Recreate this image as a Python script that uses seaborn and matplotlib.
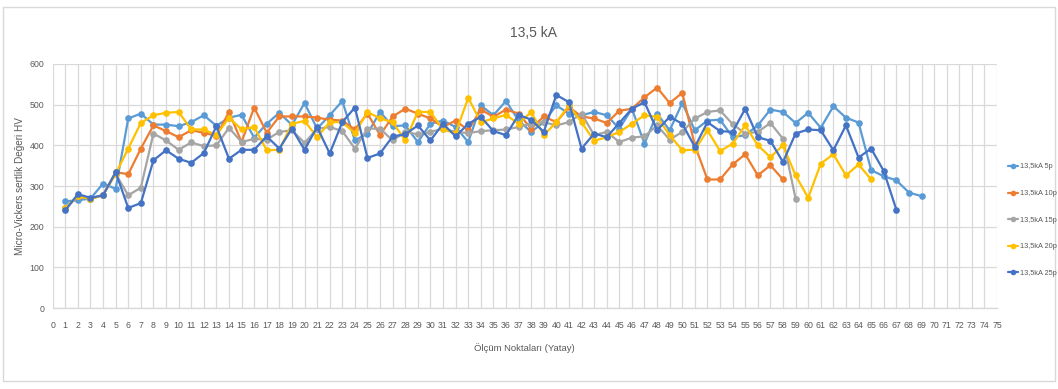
import numpy as np
import pandas as pd
import matplotlib
matplotlib.use("Agg")
import matplotlib.pyplot as plt
import seaborn as sns
from matplotlib.patches import Rectangle
from matplotlib.lines import Line2D

# Hardness readings (HV) along the horizontal measurement line, one list per hold time
series_names = ["13,5kA 5p", "13,5kA 10p", "13,5kA 15p", "13,5kA 20p", "13,5kA 25p"]

hv_5p = [262, 265, 269, 306, 293, 466, 478, 451, 451, 447, 457, 474, 448, 468, 475, 419, 453, 480, 450, 504,
         441, 474, 509, 412, 429, 482, 447, 449, 408, 453, 461, 445, 408, 498, 474, 509, 461, 433, 457, 498,
         478, 474, 482, 474, 441, 490, 404, 478, 437, 504, 437, 461, 463, 420, 425, 449, 488, 482, 455, 480,
         443, 496, 468, 456, 339, 324, 314, 284, 275]
hv_10p = [245, 275, 268, 278, 334, 329, 392, 449, 435, 420, 437, 431, 423, 482, 408, 493, 431, 471, 471, 471,
          468, 463, 461, 439, 478, 425, 471, 490, 478, 466, 445, 461, 437, 488, 470, 488, 478, 441, 471, 457,
          494, 471, 466, 455, 485, 490, 518, 542, 504, 529, 400, 316, 316, 353, 378, 326, 351, 316]
hv_15p = [245, 275, 268, 278, 330, 277, 296, 429, 412, 389, 407, 398, 400, 443, 408, 416, 414, 433, 437, 406,
          441, 445, 435, 392, 441, 441, 412, 433, 427, 433, 441, 433, 430, 435, 437, 439, 445, 453, 457, 449,
          457, 478, 425, 433, 408, 419, 422, 449, 414, 433, 466, 482, 486, 452, 429, 433, 455, 416, 269]
hv_20p = [245, 275, 268, 278, 330, 392, 455, 474, 480, 482, 439, 439, 425, 468, 439, 445, 388, 389, 453, 460,
          420, 457, 457, 430, 482, 466, 457, 412, 482, 482, 439, 430, 517, 457, 466, 475, 453, 482, 425, 457,
          498, 457, 411, 420, 433, 453, 474, 470, 425, 388, 389, 437, 386, 404, 449, 400, 371, 400, 326, 271,
          355, 378, 326, 353, 316]
hv_25p = [240, 280, 271, 277, 334, 246, 258, 363, 388, 367, 357, 381, 447, 367, 389, 389, 422, 392, 441, 389,
          445, 380, 457, 493, 369, 380, 422, 427, 449, 412, 453, 422, 453, 470, 435, 425, 475, 463, 433, 524,
          506, 392, 429, 420, 455, 490, 506, 437, 470, 453, 396, 457, 435, 433, 490, 420, 411, 359, 429, 439,
          437, 388, 449, 370, 392, 337, 242]

all_series = [hv_5p, hv_10p, hv_15p, hv_20p, hv_25p]
colors = ["#5B9BD5", "#ED7D31", "#A5A5A5", "#FFC000", "#4472C4"]

title_text = "13,5 kA"
x_label = "Ölçüm Noktaları (Yatay)"
y_label = "Micro-Vickers sertlik Değeri HV"
x_ticks = list(range(0, 76))
y_ticks = list(range(0, 601, 100))

rows = []
for name, vals in zip(series_names, all_series):
    for i, v in enumerate(vals, start=1):
        rows.append({"nokta": i, "HV": v, "seri": name})
df = pd.DataFrame(rows)

sns.set_theme(style="white")
plt.rcParams["font.family"] = ["Liberation Sans", "DejaVu Sans"]
text_color = "#595959"
grid_color = "#D9D9D9"

fig = plt.figure(figsize=(10.58, 3.89), dpi=100)
ax = fig.add_axes([0.0498, 0.2082, 0.8926, 0.6273])

sns.lineplot(data=df, x="nokta", y="HV", hue="seri", hue_order=series_names,
             palette=colors, marker="o", markersize=4.8, markeredgewidth=0,
             linewidth=1.6, sort=False, legend=False, ax=ax)

ax.set_xlim(0, 75)
ax.set_ylim(0, 600)
ax.set_xticks(x_ticks)
ax.set_xticklabels([str(t) for t in x_ticks], fontsize=6.3, color=text_color)
ax.set_yticks(y_ticks)
ax.set_yticklabels([str(t) for t in y_ticks], fontsize=6.3, color=text_color)
ax.tick_params(axis="x", length=3, width=0.8, color=grid_color, pad=6)
ax.tick_params(axis="y", length=0, pad=6)
ax.grid(True, color=grid_color, linewidth=0.9)
ax.set_axisbelow(True)
for side in ["top", "right", "left"]:
    ax.spines[side].set_visible(False)
ax.spines["bottom"].set_color(grid_color)
ax.spines["bottom"].set_linewidth(1.0)

ax.set_xlabel(x_label, fontsize=6.8, color=text_color, labelpad=10)
ax.set_ylabel(y_label, fontsize=7.2, color=text_color)
ax.yaxis.set_label_coords(-0.029, 0.5)
fig.text(0.504, 0.915, title_text, ha="center", va="center", fontsize=10, color=text_color)

handles = [Line2D([0], [0], color=c, marker="o", markersize=4, markeredgewidth=0, linewidth=1.6)
           for c in colors]
fig.legend(handles, series_names, loc="center left", bbox_to_anchor=(0.953, 0.434),
           frameon=False, fontsize=5.3, labelcolor=text_color, handlelength=1.3,
           handletextpad=0.25, labelspacing=2.65, borderaxespad=0, borderpad=0)

# Chart-area frame
fig.patches.append(Rectangle((0.003, 0.02), 0.994, 0.963, transform=fig.transFigure,
                             fill=False, edgecolor="#D9D9D9", linewidth=1.0))

fig.savefig("out.png", dpi=100)
